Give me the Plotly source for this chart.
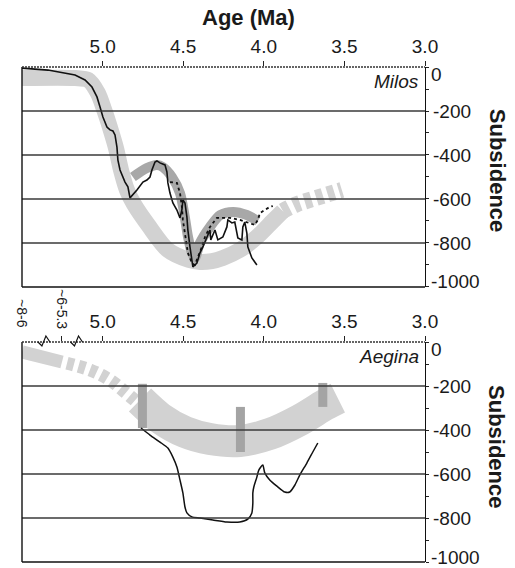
import plotly.graph_objects as go

# ---------------- data ----------------
age_ticks = [5.0, 4.5, 4.0, 3.5, 3.0]
age_ticktext = ["5.0", "4.5", "4.0", "3.5", "3.0"]
sub_ticks = [0, -200, -400, -600, -800, -1000]
sub_ticktext = ["", "-200", "-400", "-600", "-800", ""]
sub_edge_values = [0, -1000]
sub_edge_text = ["0", "-1000"]
sub_minor = [-100, -300, -500, -700, -900]
grid_values = [-200, -400, -600, -800]
age_range = [5.5, 3.0]
sub_range = [-1000, 0]

# Milos: black solid curve
milos_solid_age = [5.5, 5.339, 5.171, 5.109, 5.066, 5.035, 5.016, 4.998, 4.973, 4.954, 4.936, 4.923,
                   4.911, 4.905, 4.892, 4.880, 4.861, 4.843, 4.830, 4.787, 4.756, 4.750, 4.725, 4.706,
                   4.694, 4.675, 4.663, 4.644, 4.613, 4.601, 4.595, 4.582, 4.564, 4.539, 4.520, 4.508,
                   4.502, 4.489, 4.477, 4.471, 4.458, 4.446, 4.440, 4.415, 4.396, 4.378, 4.353, 4.334,
                   4.329, 4.303, 4.285, 4.254, 4.229, 4.223, 4.198, 4.180, 4.161, 4.136, 4.130, 4.118,
                   4.105, 4.099, 4.074, 4.043]
milos_solid_sub = [-5, -14, -36, -59, -91, -136, -182, -227, -273, -286, -291, -309,
                   -364, -423, -468, -491, -523, -545, -595, -559, -527, -523, -514, -500,
                   -468, -432, -427, -436, -445, -477, -527, -573, -618, -650, -686, -650,
                   -605, -618, -682, -741, -818, -891, -909, -891, -845, -818, -773, -741,
                   -786, -741, -786, -773, -727, -695, -709, -705, -777, -786, -727, -705,
                   -755, -818, -868, -900]

# Milos: dotted curve
milos_dot_age = [4.582, 4.539, 4.520, 4.508, 4.502, 4.489, 4.477, 4.471, 4.446, 4.427, 4.409, 4.384,
                 4.365, 4.334, 4.291, 4.272, 4.210, 4.148, 4.099, 4.056, 4.037, 4.024, 3.994, 3.963, 3.944]
milos_dot_sub = [-523, -527, -573, -636, -695, -755, -800, -845, -891, -900, -864, -818,
                 -773, -727, -686, -686, -686, -695, -709, -718, -695, -664, -650, -636, -632]

# Milos: light grey trend band (solid part, then dashed part)
milos_band_age = [5.5, 5.17, 5.09, 5.03, 4.99, 4.955, 4.917, 4.886, 4.849, 4.806, 4.713, 4.595,
                  4.465, 4.396, 4.322, 4.254, 4.149, 4.043, 3.944, 3.882]
milos_band_sub = [-50, -50, -59, -118, -195, -273, -368, -468, -559, -623, -723, -832,
                  -877, -886, -882, -868, -832, -773, -700, -655]
milos_band_dash_age = [3.882, 3.80, 3.696, 3.60, 3.516]
milos_band_dash_sub = [-655, -625, -600, -578, -559]

# Milos: darker grey hump band
milos_hump_age = [4.812, 4.725, 4.663, 4.626, 4.57, 4.52, 4.49, 4.47, 4.446, 4.427, 4.396, 4.334,
                  4.27, 4.19, 4.105, 4.037]
milos_hump_sub = [-500, -459, -445, -455, -500, -573, -682, -773, -845, -868, -800, -727,
                  -673, -659, -673, -700]

# Aegina: black curve
aegina_age = [4.762, 4.706, 4.644, 4.595, 4.564, 4.539, 4.520, 4.502, 4.489, 4.477, 4.446, 4.396,
              4.316, 4.229, 4.149, 4.099, 4.074, 4.068, 4.068, 4.062, 4.043, 4.031, 4.006, 3.994,
              3.963, 3.919, 3.870, 3.839, 3.807, 3.777, 3.733, 3.696, 3.665]
aegina_sub = [-391, -423, -455, -482, -523, -568, -627, -686, -750, -777, -795, -800,
              -809, -818, -818, -805, -777, -732, -686, -659, -614, -582, -559, -595,
              -627, -655, -682, -682, -650, -605, -550, -500, -459]

# Aegina: light grey band (thin early part, dashed part, thick main part)
aegina_band_early_age = [5.5, 5.252]
aegina_band_early_sub = [-45, -91]
aegina_band_dash_age = [5.252, 5.078, 4.954, 4.861, 4.787]
aegina_band_dash_sub = [-91, -127, -173, -227, -273]
aegina_band_age = [4.768, 4.644, 4.489, 4.334, 4.149, 3.962, 3.777, 3.622, 3.541]
aegina_band_sub = [-264, -345, -409, -441, -450, -418, -355, -286, -255]

# Aegina: darker grey bars
aegina_bar_age = [4.753, 4.145, 3.634]
aegina_bar_top = [-190, -295, -186]
aegina_bar_bottom = [-391, -500, -295]

# broken-axis labels on Aegina panel
break_label_age = [5.5, 5.252]
break_label_text = ["~8-6", "~6-5.3"]
break_mark_age = [5.364, 5.162]

# ---------------- styling ----------------
FONT = "Liberation Sans, Arial, Helvetica, sans-serif"
LIGHT = "#d2d2d2"
DARK = "#a8a8a8"
BAR = "#a4a4a4"
INK = "#1a1a1a"

fig = go.Figure()

# Milos panel
fig.add_trace(go.Scatter(x=milos_band_age, y=milos_band_sub, mode="lines",
                         line=dict(color=LIGHT, width=16, shape="spline", smoothing=0.8),
                         xaxis="x", yaxis="y", hoverinfo="skip"))
fig.add_trace(go.Scatter(x=milos_band_dash_age, y=milos_band_dash_sub, mode="lines",
                         line=dict(color=LIGHT, width=16, dash="7px,5px", shape="spline"),
                         xaxis="x", yaxis="y", hoverinfo="skip"))
fig.add_trace(go.Scatter(x=milos_hump_age, y=milos_hump_sub, mode="lines",
                         line=dict(color=DARK, width=10, shape="spline", smoothing=0.8),
                         xaxis="x", yaxis="y", hoverinfo="skip"))
fig.add_trace(go.Scatter(x=milos_dot_age, y=milos_dot_sub, mode="lines",
                         line=dict(color="#111111", width=1.8, dash="dot"),
                         xaxis="x", yaxis="y", hoverinfo="skip"))
fig.add_trace(go.Scatter(x=milos_solid_age, y=milos_solid_sub, mode="lines",
                         line=dict(color="#111111", width=1.6),
                         xaxis="x", yaxis="y", hoverinfo="skip"))

# Aegina panel
fig.add_trace(go.Scatter(x=aegina_band_early_age, y=aegina_band_early_sub, mode="lines",
                         line=dict(color=LIGHT, width=13),
                         xaxis="x2", yaxis="y2", hoverinfo="skip"))
fig.add_trace(go.Scatter(x=aegina_band_dash_age, y=aegina_band_dash_sub, mode="lines",
                         line=dict(color=LIGHT, width=13, dash="0px,5px,7px,0px", shape="spline"),
                         xaxis="x2", yaxis="y2", hoverinfo="skip"))
fig.add_trace(go.Scatter(x=aegina_band_age, y=aegina_band_sub, mode="lines",
                         line=dict(color=LIGHT, width=32, shape="spline", smoothing=0.8),
                         xaxis="x2", yaxis="y2", hoverinfo="skip"))
for a, t, b in zip(aegina_bar_age, aegina_bar_top, aegina_bar_bottom):
    fig.add_trace(go.Scatter(x=[a, a], y=[t, b], mode="lines",
                             line=dict(color=BAR, width=9),
                             xaxis="x2", yaxis="y2", hoverinfo="skip"))
fig.add_trace(go.Scatter(x=aegina_age, y=aegina_sub, mode="lines",
                         line=dict(color="#111111", width=1.5, shape="spline", smoothing=0.6),
                         xaxis="x2", yaxis="y2", hoverinfo="skip"))

tickfont = dict(family=FONT, size=19, color=INK)

def xax(anchor, vals, text):
    return dict(domain=[0, 1], anchor=anchor, side="top", range=age_range,
                tickmode="array", tickvals=vals, ticktext=text,
                ticks="outside", ticklen=5, tickwidth=1, tickcolor="#222",
                showline=False, showgrid=False, zeroline=False, tickfont=tickfont,
                automargin=False)

def yax(anchor, domain):
    return dict(domain=domain, anchor=anchor, side="right", range=sub_range,
                tickmode="array", tickvals=sub_ticks, ticktext=sub_ticktext,
                ticks="outside", ticklen=3, tickwidth=1, tickcolor="#222",
                minor=dict(tickmode="array", tickvals=sub_minor, ticks="outside",
                           ticklen=3, tickwidth=1, tickcolor="#222"),
                showline=True, linecolor="#111", linewidth=1.4,
                showgrid=False, zeroline=False, tickfont=tickfont,
                automargin=False)

shapes = []
for xr, yr in (("x", "y"), ("x2", "y2")):
    dom_x, dom_y = xr + " domain", yr + " domain"
    for g in grid_values:
        shapes.append(dict(type="line", xref=dom_x, yref=yr, x0=0, x1=1, y0=g, y1=g,
                           line=dict(color="#3a3a3a", width=1.3), layer="above"))
    shapes.append(dict(type="line", xref=dom_x, yref=dom_y, x0=0, x1=0, y0=0, y1=1,
                       line=dict(color="#111", width=1.4), layer="above"))
    shapes.append(dict(type="line", xref=dom_x, yref=dom_y, x0=0, x1=1, y0=0, y1=0,
                       line=dict(color="#111", width=1.4), layer="above"))
    shapes.append(dict(type="line", xref=dom_x, yref=dom_y, x0=0, x1=1, y0=1, y1=1,
                       line=dict(color="#333", width=1.5, dash="2px,1px"), layer="above"))

# axis-break zigzags on Aegina top axis
PW, PH = 403.0, 220.0
for bx in break_mark_age:
    f = (age_range[0] - bx) / (age_range[0] - age_range[1])
    path = (f"M {f - 6/PW},1 L {f - 2/PW},{1 - 4/PH} "
            f"L {f + 2/PW},{1 + 6/PH} L {f + 6/PW},1")
    shapes.append(dict(type="path", xref="x2 domain", yref="y2 domain", path=path,
                       line=dict(color="#111", width=1.2), layer="above"))

annotations = [
    dict(text="<b>Age (Ma)</b>", xref="paper", yref="paper", x=0.561, y=1.099,
         xanchor="center", yanchor="middle", showarrow=False,
         font=dict(family=FONT, size=22, color=INK)),
    dict(text="<b>Subsidence</b>", xref="paper", yref="paper", x=1.179, y=0.792,
         xanchor="center", yanchor="middle", textangle=90, showarrow=False,
         font=dict(family=FONT, size=22, color=INK)),
    dict(text="<b>Subsidence</b>", xref="paper", yref="paper", x=1.179, y=0.234,
         xanchor="center", yanchor="middle", textangle=90, showarrow=False,
         font=dict(family=FONT, size=22, color=INK)),
    dict(text="<i>Milos</i>", xref="x domain", yref="y domain", x=0.99, y=0.935,
         xanchor="right", yanchor="middle", showarrow=False,
         font=dict(family=FONT, size=19, color=INK)),
    dict(text="<i>Aegina</i>", xref="x2 domain", yref="y2 domain", x=0.99, y=0.935,
         xanchor="right", yanchor="middle", showarrow=False,
         font=dict(family=FONT, size=19, color=INK)),
]
# edge tick labels (0 nudged down, -1000 nudged up, as in the original)
for yr, xr in (("y", "x"), ("y2", "x2")):
    for v, t, sh in zip(sub_edge_values, sub_edge_text, [-7, 5]):
        annotations.append(dict(text=t, xref=xr + " domain", yref=yr, x=1, y=v,
                                xanchor="left", yanchor="middle", xshift=4, yshift=sh,
                                showarrow=False, font=tickfont))
for bx, bt, yc in zip(break_label_age, break_label_text, [0.503, 0.511]):
    annotations.append(dict(text=bt, xref="x2", yref="paper", x=bx, y=yc,
                            xanchor="center", yanchor="middle", textangle=90,
                            showarrow=False,
                            font=dict(family=FONT, size=14, color=INK)))

fig.update_layout(
    template="none",
    width=515, height=568,
    margin=dict(l=22, r=90, t=67, b=6, autoexpand=False),
    paper_bgcolor="white", plot_bgcolor="white",
    showlegend=False,
    hovermode=False,
    xaxis=xax("y", age_ticks, age_ticktext),
    yaxis=yax("x", [0.5556, 1.0]),
    xaxis2=xax("y2", age_ticks + [5.252], age_ticktext + [""]),
    yaxis2=yax("x2", [0.0, 0.4444]),
    shapes=shapes,
    annotations=annotations,
)

fig.write_html("out.html", config={"displayModeBar": False},
               post_script="document.body.style.margin='0';document.body.style.overflow='hidden';")
